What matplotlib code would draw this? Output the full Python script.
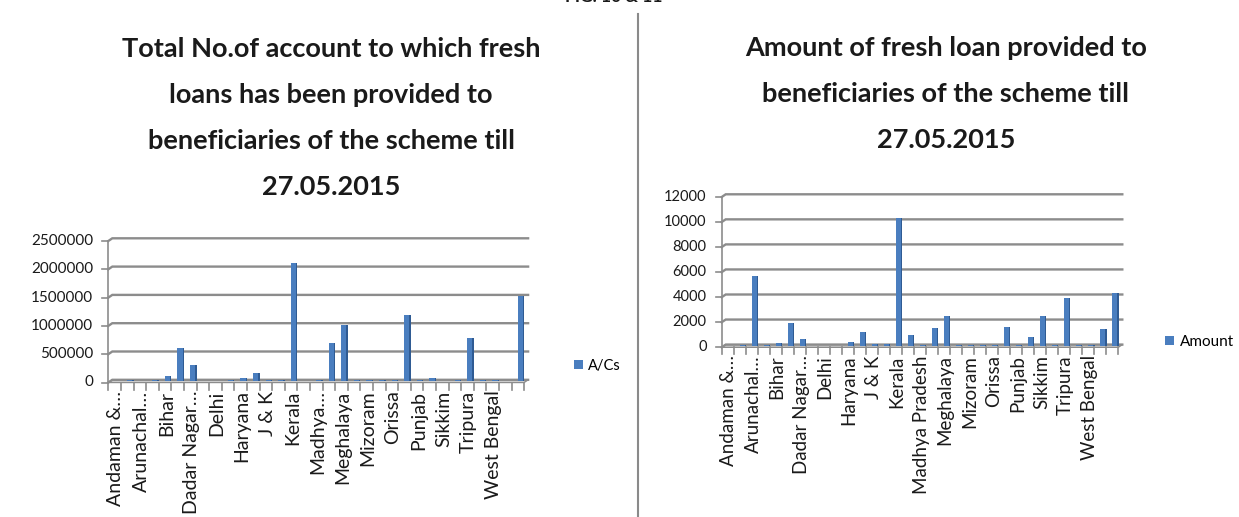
import matplotlib
matplotlib.use("Agg")
import matplotlib.pyplot as plt
from matplotlib.patches import Polygon
import numpy as np

W, H, DPI = 1239, 517, 100

# ---- data -------------------------------------------------------------
states = [
    "Andaman & Nicobar", "Andhra Pradesh", "Arunachal Pradesh", "Assam", "Bihar",
    "Chhattisgarh", "Dadar Nagar Haveli", "Daman & Diu", "Delhi", "Gujarat",
    "Haryana", "Himachal Pradesh", "J & K", "Jharkhand", "Kerala", "Lakshadweep",
    "Madhya Pradesh", "Maharashtra", "Meghalaya", "Manipur", "Mizoram", "Nagaland",
    "Orissa", "Puducherry", "Punjab", "Rajasthan", "Sikkim", "Tamil Nadu", "Tripura",
    "Uttar Pradesh", "West Bengal", "Uttarakhand", "Karnataka",
]

accounts = [0, 25000, 0, 25000, 90000, 580000, 280000, 0, 0, 12000, 50000,
            150000, 25000, 20000, 2090000, 0, 15000, 670000, 1000000, 20000,
            20000, 20000, 20000, 1170000, 20000, 60000, 0, 12000, 770000, 20000,
            20000, 0, 1500000]

amounts = [0, 50, 5550, 100, 200, 1800, 550, 0, 0, 30, 300, 1100, 150, 150,
           10200, 850, 50, 1400, 2400, 100, 100, 80, 100, 1550, 100, 700, 2400,
           40, 3800, 100, 80, 1350, 4250]

acs_ticklabels = ["Andaman &\u2026", "Arunachal\u2026", "Bihar", "Dadar Nagar\u2026",
                  "Delhi", "Haryana", "J & K", "Kerala", "Madhya\u2026", "Meghalaya",
                  "Mizoram", "Orissa", "Punjab", "Sikkim", "Tripura", "West Bengal"]
amt_ticklabels = ["Andaman &\u2026", "Arunachal\u2026", "Bihar", "Dadar Nagar\u2026",
                  "Delhi", "Haryana", "J & K", "Kerala", "Madhya Pradesh", "Meghalaya",
                  "Mizoram", "Orissa", "Punjab", "Sikkim", "Tripura", "West Bengal"]

acs_title = "Total No.of account to which fresh\nloans has been provided to\nbeneficiaries of the scheme till\n27.05.2015"
amt_title = "Amount of fresh loan provided to\nbeneficiaries of the scheme till\n27.05.2015"

# ---- style ------------------------------------------------------------
FONT = ["Lato", "DejaVu Sans"]
BLUE = "#4a7ebf"
BLUE_SIDE = "#2f5b93"
GRID = "#8c8c8c"
FLOOR = "#dcdcdc"
INK = "#1a1a1a"

fig = plt.figure(figsize=(W / DPI, H / DPI), dpi=DPI)
fig.patch.set_facecolor("white")


def px_axes(x0, x1, y_base, y_top):
    return fig.add_axes([x0 / W, (H - y_base) / H, (x1 - x0) / W, (y_base - y_top) / H])


def panel(ax, values, ymax, ystep, ticklabels, xlab_size, ylab_size, depth=(4.0, 2.7)):
    n = len(values)
    x = np.arange(n)
    ax.set_xlim(-0.5, n - 0.5)
    ax.set_ylim(0, ymax)
    ax.axis("off")
    bb = ax.get_position()
    ppx = bb.width * W / n            # pixels per category
    ppy = bb.height * H / ymax        # pixels per value unit
    dx, dy = depth[0] / ppx, depth[1] / ppy
    kw = dict(clip_on=False)

    # floor
    floor = Polygon([(-0.5, 0), (n - 0.5, 0), (n - 0.5 + dx, dy), (-0.5 + dx, dy)],
                    closed=True, facecolor=FLOOR, edgecolor=GRID, lw=1.0, **kw)
    ax.add_patch(floor)

    # back-wall gridlines with side-wall diagonal
    for v in np.arange(0, ymax + ystep / 2, ystep):
        ax.plot([-0.5, -0.5 + dx, n - 0.5 + dx], [v, v + dy, v + dy],
                color=GRID, lw=1.7, solid_joinstyle="miter", **kw)

    # value axis with outward ticks and labels
    ax.plot([-0.5, -0.5], [0, ymax], color=GRID, lw=1.2, **kw)
    for v in np.arange(0, ymax + ystep / 2, ystep):
        ax.plot([-0.5 - 6 / ppx, -0.5], [v, v], color=GRID, lw=1.2, **kw)
        ax.text(-0.5 - 15 / ppx, v, f"{int(v)}", ha="right", va="center",
                fontsize=ylab_size, family=FONT, color=INK)

    # category axis ticks (between categories) and labels on every other one
    for k in range(n + 1):
        ax.plot([k - 0.5, k - 0.5], [0, -7 / ppy], color=GRID, lw=1.2, **kw)
    for i, lab in zip(range(0, n, 2), ticklabels):
        ax.text(i + 0.1, -8 / ppy, lab, rotation=90, ha="center", va="top",
                fontsize=xlab_size, family=FONT, color=INK)

    # columns: front face plus darker side face, set back half the depth
    ox, oy = dx * 0.6, dy * 0.5
    bars = ax.bar(x + ox, values, width=0.40, bottom=oy, color=BLUE, lw=0,
                  zorder=3, **kw)
    ax.bar(x + ox + 0.26, values, width=0.12, bottom=oy, color=BLUE_SIDE, lw=0,
           zorder=3, **kw)
    return bars


# left chart: number of accounts
ax1 = px_axes(108.3, 524.1, 382.5, 241.0)
b1 = panel(ax1, accounts, 2500000, 500000, acs_ticklabels, 14.0, 11.0)

# right chart: amount
ax2 = px_axes(721.7, 1118.3, 347.3, 197.0)
b2 = panel(ax2, amounts, 12000, 2000, amt_ticklabels, 13.5, 10.5)

# titles
fig.text(331 / W, 1 - 118 / H, acs_title, ha="center", va="center", fontsize=19.5,
         fontweight="bold", family=FONT, linespacing=2.1, color=INK)
fig.text(946 / W, 1 - 94 / H, amt_title, ha="center", va="center", fontsize=19.5,
         fontweight="bold", family=FONT, linespacing=2.12, color=INK)

# legends
fig.legend([b1], ["A/Cs"], loc="center left", bbox_to_anchor=(574 / W, 1 - 366 / H),
           frameon=False, handlelength=0.6, handleheight=0.6, handletextpad=0.35,
           borderpad=0, borderaxespad=0, prop={"family": FONT, "size": 10.5})
fig.legend([b2], ["Amount"], loc="center left", bbox_to_anchor=(1165 / W, 1 - 342 / H),
           frameon=False, handlelength=0.6, handleheight=0.6, handletextpad=0.35,
           borderpad=0, borderaxespad=0, prop={"family": FONT, "size": 11})

# figure caption (cut by the top edge) and divider
fig.text(614 / W, 1 - 5 / H, "FIG. 10 & 11", ha="center", va="bottom", fontsize=12.5,
         fontweight="bold", family=FONT, color=INK)
fig.add_artist(plt.Line2D([638 / W, 638 / W], [0, 1 - 14 / H], color="#8a8a8a",
                          lw=1.5, transform=fig.transFigure))

fig.savefig("out.png", dpi=DPI)
